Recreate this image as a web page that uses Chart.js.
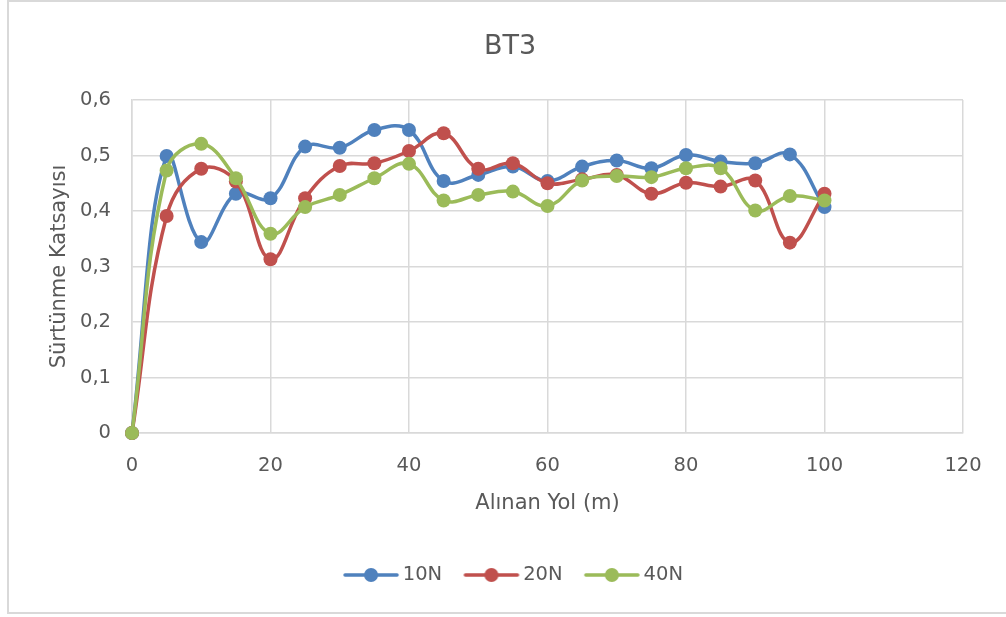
<!DOCTYPE html>
<html>
<head>
<meta charset="utf-8">
<script src="https://cdn.jsdelivr.net/npm/chart.js@4/dist/chart.umd.min.js"></script>
<style>
  html, body { margin: 0; padding: 0; background: #ffffff; }
  #wrap { position: relative; width: 1006px; height: 617px; overflow: hidden; }
  #frame { position: absolute; left: 7px; top: 0px; width: 1010px; height: 614px; border: 2px solid #d9d9d9; box-sizing: border-box; pointer-events: none; }
</style>
</head>
<body>
<div id="wrap">
  <canvas id="c" width="1006" height="617"></canvas>
  <div id="frame"></div>
</div>
<script>
// Alınan yol (m)
const distance = [0, 5, 10, 15, 20, 25, 30, 35, 40, 45, 50, 55, 60, 65, 70, 75, 80, 85, 90, 95, 100];

// Sürtünme katsayısı, yük başına
const load10N = [0, 0.499, 0.344, 0.431, 0.423, 0.516, 0.514, 0.546, 0.546, 0.454, 0.465, 0.480, 0.454, 0.480, 0.491, 0.477, 0.501, 0.489, 0.486, 0.502, 0.407];
const load20N = [0, 0.391, 0.476, 0.453, 0.313, 0.423, 0.481, 0.486, 0.508, 0.540, 0.476, 0.486, 0.450, 0.457, 0.465, 0.431, 0.451, 0.444, 0.455, 0.343, 0.431];
const load40N = [0, 0.473, 0.521, 0.459, 0.359, 0.407, 0.429, 0.459, 0.485, 0.419, 0.429, 0.435, 0.409, 0.455, 0.463, 0.461, 0.477, 0.477, 0.401, 0.427, 0.419];

const seriesNames = ['10N', '20N', '40N'];
const seriesColors = ['#4f81bd', '#c0504d', '#9bbb59'];

const xTicks = [0, 20, 40, 60, 80, 100, 120];
const yTicks = [0, 0.1, 0.2, 0.3, 0.4, 0.5, 0.6];

const FONT = "'DejaVu Sans', 'Open Sans', sans-serif";
const TEXT = '#595959';
const GRID = '#d9d9d9';

function toPoints(values) {
  return values.map((v, i) => ({ x: distance[i], y: v }));
}

// legend swatch: short line with a round marker in the middle
function swatch(color) {
  const cv = document.createElement('canvas');
  cv.width = 58; cv.height = 18;
  const g = cv.getContext('2d');
  g.strokeStyle = color;
  g.lineWidth = 3.5;
  g.lineCap = 'round';
  g.beginPath(); g.moveTo(3, 9); g.lineTo(55, 9); g.stroke();
  g.fillStyle = color;
  g.beginPath(); g.arc(29, 9, 7, 0, Math.PI * 2); g.fill();
  return cv;
}

const seriesValues = [load10N, load20N, load40N];
const datasets = seriesValues.map((vals, i) => ({
  label: seriesNames[i],
  data: toPoints(vals),
  borderColor: seriesColors[i],
  backgroundColor: seriesColors[i],
  pointBackgroundColor: seriesColors[i],
  pointBorderColor: seriesColors[i],
  pointBorderWidth: 0,
  pointRadius: 7,
  pointHoverRadius: 7,
  borderWidth: 3.5,
  tension: 0.4,
  order: seriesValues.length - i,
  clip: false
}));

const fmt = v => (Math.round(v * 10) / 10).toString().replace('.', ',');

// nudge the legend row so it sits centred under the plot like the title
const legendNudge = {
  id: 'legendNudge',
  afterLayout(chart) {
    if (chart.legend) { chart.legend.left += 6; chart.legend.right += 6; }
  }
};

new Chart(document.getElementById('c'), {
  type: 'line',
  data: { datasets },
  plugins: [legendNudge],
  options: {
    responsive: false,
    animation: false,
    events: [],
    layout: { padding: { left: 57, right: 43, top: 0, bottom: 22.25 } },
    scales: {
      x: {
        type: 'linear',
        min: 0, max: 120,
        afterBuildTicks: s => { s.ticks = xTicks.map(v => ({ value: v })); },
        afterFit: s => { s.height = 105; s.paddingLeft = 0; s.paddingRight = 0; },
        grid: { color: GRID, lineWidth: 1.5, drawTicks: false },
        border: { color: GRID, width: 1.5 },
        ticks: { color: TEXT, font: { family: FONT, size: 19.5 }, padding: 21, maxRotation: 0 },
        title: { display: true, text: 'Alınan Yol (m)', color: TEXT, font: { family: FONT, size: 21 }, padding: { top: 0, bottom: 21.9 } }
      },
      y: {
        min: 0, max: 0.6,
        afterBuildTicks: s => { s.ticks = yTicks.map(v => ({ value: v })); },
        afterFit: s => { s.width = 75; s.paddingTop = 0; s.paddingBottom = 0; },
        grid: { color: GRID, lineWidth: 1.5, drawTicks: false },
        border: { color: GRID, width: 1.5 },
        ticks: { color: TEXT, font: { family: FONT, size: 19.5 }, padding: 21, callback: v => fmt(v) },
        title: { display: true, text: 'Sürtünme Katsayısı', color: TEXT, font: { family: FONT, size: 21 }, padding: { top: -10, bottom: 0 } }
      }
    },
    plugins: {
      title: {
        display: true,
        text: 'BT3',
        color: TEXT,
        font: { family: FONT, size: 27, weight: 'normal' },
        padding: { top: 30.8, bottom: 36.8 }
      },
      legend: {
        position: 'bottom',
        labels: {
          color: TEXT,
          font: { family: FONT, size: 19.5 },
          usePointStyle: true,
          pointStyleWidth: 44,
          padding: 27.25,
          sort: (a, b) => a.datasetIndex - b.datasetIndex,
          generateLabels: chart => {
            const items = Chart.defaults.plugins.legend.labels.generateLabels(chart);
            items.forEach(it => { it.pointStyle = swatch(seriesColors[it.datasetIndex]); });
            return items;
          }
        }
      },
      tooltip: { enabled: false }
    }
  }
});
</script>
</body>
</html>
